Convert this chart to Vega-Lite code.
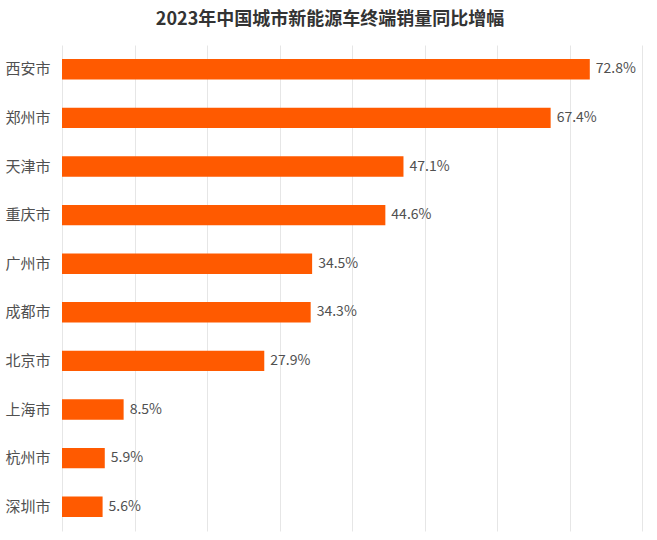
{
  "$schema": "https://vega.github.io/schema/vega-lite/v6.json",
  "width": 580,
  "height": 486,
  "autosize": "none",
  "padding": {"left": 62, "top": 45, "right": 15, "bottom": 9},
  "background": "white",
  "title": {
    "text": "2023年中国城市新能源车终端销量同比增幅",
    "font": "Noto Sans CJK SC",
    "fontSize": 18,
    "fontWeight": "bold",
    "color": "#333333",
    "anchor": "middle",
    "dx": -22,
    "offset": 16
  },
  "data": {
    "values": [
      {"city": "西安市", "value": 72.8, "label": "72.8%"},
      {"city": "郑州市", "value": 67.4, "label": "67.4%"},
      {"city": "天津市", "value": 47.1, "label": "47.1%"},
      {"city": "重庆市", "value": 44.6, "label": "44.6%"},
      {"city": "广州市", "value": 34.5, "label": "34.5%"},
      {"city": "成都市", "value": 34.3, "label": "34.3%"},
      {"city": "北京市", "value": 27.9, "label": "27.9%"},
      {"city": "上海市", "value": 8.5, "label": "8.5%"},
      {"city": "杭州市", "value": 5.9, "label": "5.9%"},
      {"city": "深圳市", "value": 5.6, "label": "5.6%"}
    ]
  },
  "config": {
    "view": {"stroke": null},
    "font": "Noto Sans CJK SC"
  },
  "encoding": {
    "y": {
      "field": "city",
      "type": "nominal",
      "sort": null,
      "scale": {"paddingInner": 0.58, "paddingOuter": 0.29},
      "axis": {
        "title": null,
        "domain": false,
        "ticks": false,
        "labelFont": "Noto Sans CJK SC",
        "labelFontSize": 15,
        "labelColor": "#505050",
        "labelPadding": 12
      }
    },
    "x": {
      "field": "value",
      "type": "quantitative",
      "scale": {"domain": [0, 80], "nice": false},
      "axis": {
        "title": null,
        "labels": false,
        "ticks": false,
        "domain": false,
        "values": [0, 10, 20, 30, 40, 50, 60, 70, 80],
        "labelOverlap": false,
        "grid": true,
        "gridColor": "#e6e6e6",
        "gridWidth": 1
      }
    }
  },
  "layer": [
    {
      "mark": {"type": "bar", "color": "#FF5A00"}
    },
    {
      "mark": {"type": "text", "align": "left", "dx": 6, "fontSize": 14, "color": "#505050", "font": "Noto Sans CJK SC"},
      "encoding": {
        "text": {"field": "label", "type": "nominal"}
      }
    }
  ]
}
